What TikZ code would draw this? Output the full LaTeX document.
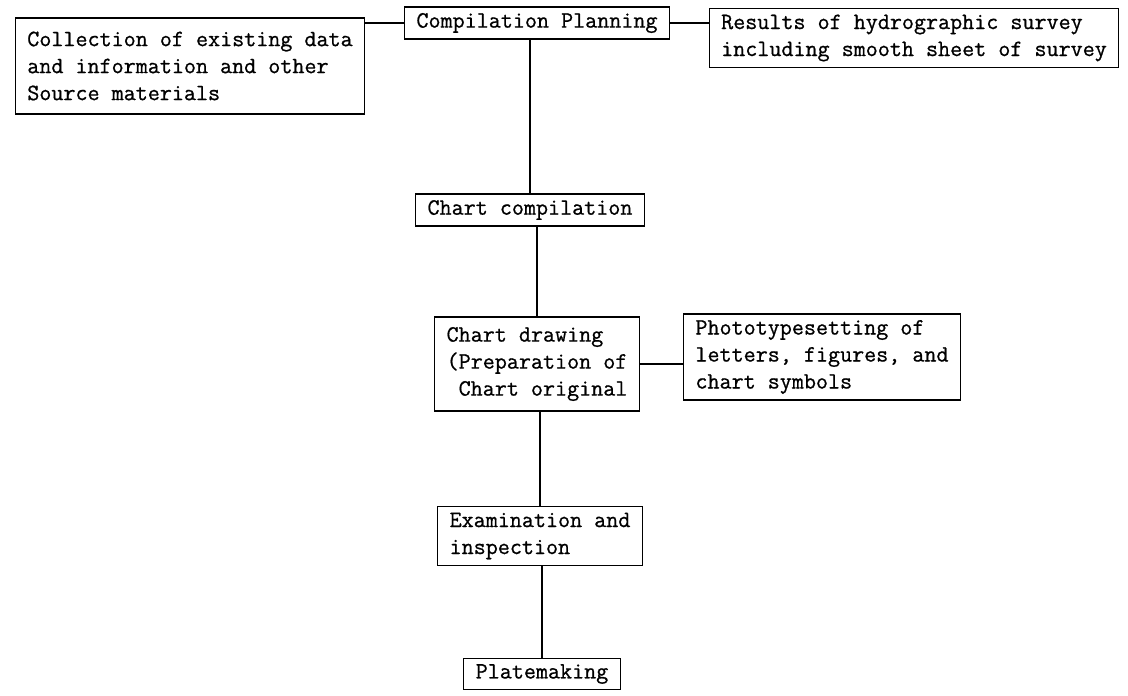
\documentclass[tikz,border=0pt]{standalone}
\usepackage{fontspec}
\newfontfamily\boxfont{Latin Modern Mono}[FakeBold=0.8]
\usepackage{tikz}
\usetikzlibrary{positioning,calc}
\tikzset{
  stepbox/.style ={rectangle, draw=black, line width=1.3pt, fill=white,
                   inner xsep=12pt, inner ysep=6pt, align=left,
                   font=\boxfont\fontsize{23.4}{27}\selectfont},
  link/.style    ={line width=1.3pt, draw=black}
}

\begin{document}
\begin{tikzpicture}[x=1pt, y=-1pt]
  \useasboundingbox[fill=white] (0,0) rectangle (1128,696);
  \node[stepbox] (plan)  at (537,23)  {Compilation Planning};
  \node[stepbox, minimum height=96pt] (coll) at (190,66) {Collection of existing data\\and information and other\\Source materials};
  \node[stepbox] (res)   at (914,38)  {Results of hydrographic survey\\including smooth sheet of survey};
  \node[stepbox] (comp)  at (530,210) {Chart compilation};
  \node[stepbox, minimum height=94pt] (draw) at (537,364) {Chart drawing\\(Preparation of\\\phantom{(}Chart original};
  \node[stepbox] (photo) at (822,357) {Phototypesetting of\\letters, figures, and\\chart symbols};
  \node[stepbox] (exam)  at (540,536) {Examination and\\inspection};
  \node[stepbox] (plate) at (542,674) {Platemaking};
  \draw[link] (plan.west) -- (plan.west -| coll.east);
  \draw[link] (plan.east) -- (plan.east -| res.west);
  \draw[link] (comp.north) -- (comp.north |- plan.south);
  \draw[link] (draw.north) -- (draw.north |- comp.south);
  \draw[link] (draw.east) -- (draw.east -| photo.west);
  \draw[link] (exam.north) -- (exam.north |- draw.south);
  \draw[link] (plate.north) -- (plate.north |- exam.south);
\end{tikzpicture}
\end{document}
